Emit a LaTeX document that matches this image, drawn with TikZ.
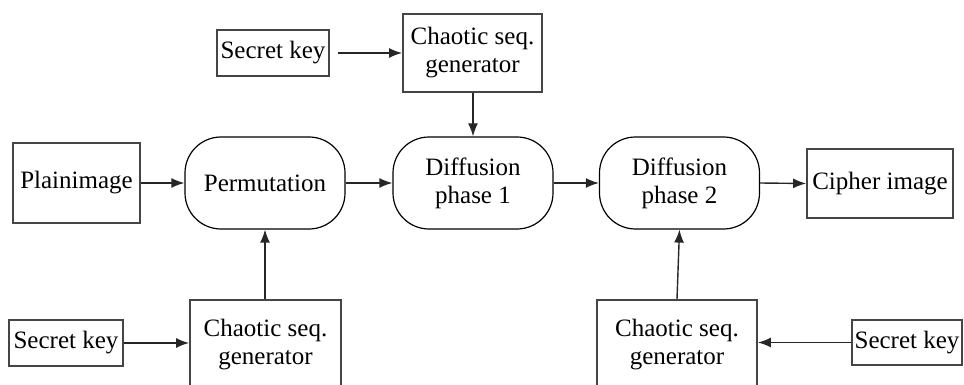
\documentclass[tikz,border=0pt]{standalone}
\usepackage{fontspec}
\setmainfont{Liberation Serif}
\newfontfamily\tnrfont{Liberation Serif}
\usetikzlibrary{arrows.meta}
\definecolor{boxline}{HTML}{454545}
\tikzset{
  box/.style={draw=boxline, line width=1.8pt, align=center, inner sep=0pt},
  proc/.style={draw=black, line width=1.2pt, rounded corners=36pt, align=center, inner sep=0pt,
     minimum width=160pt, minimum height=92pt},
  arr/.style={draw=black!85, line width=1.4pt, -{Latex[length=13pt,width=10pt]}},
}
\begin{document}
\begin{tikzpicture}[x=1pt,y=-1pt, font=\tnrfont\fontsize{25}{28}\selectfont]
\useasboundingbox (0,0) rectangle (964,385);
\clip (0,0) rectangle (964,385);
\node[box, minimum width=112pt, minimum height=46pt] (sk1) at (273,53) {Secret key};
\node[box, minimum width=139pt, minimum height=78pt] (cg1) at (472.5,53) {Chaotic seq.\\generator};
\node[box, minimum width=127pt, minimum height=80pt] (plain) at (76.5,183) {Plainimage};
\node[proc] (perm) at (265,183) {Permutation};
\node[proc] (diff1) at (473,183) {Diffusion\\phase 1};
\node[proc] (diff2) at (679.5,183) {Diffusion\\phase 2};
\node[box, minimum width=146pt, minimum height=69pt] (ciph) at (880,183.5) {Cipher image};
\node[box, minimum width=114pt, minimum height=46pt] (sk2) at (66,343) {Secret key};
\node[box, minimum width=151pt, minimum height=90pt] (cg2) at (265.5,345) {Chaotic seq.\\generator};
\node[box, minimum width=160pt, minimum height=90pt] (cg3) at (677,345) {Chaotic seq.\\generator};
\node[box, minimum width=110pt, minimum height=45pt] (sk3) at (907,342.5) {Secret key};

\draw[arr, shorten <=8pt] (sk1.east) -- (cg1.west |- sk1.east);
\draw[arr] (cg1.south -| diff1.north) -- (diff1.north);
\draw[arr] (plain.east) -- (perm.west);
\draw[arr] (perm.east) -- (diff1.west);
\draw[arr] (diff1.east) -- (diff2.west);
\draw[arr] (diff2.east) -- (ciph.west);
\draw[arr] (sk2.east) -- (cg2.west |- sk2.east);
\draw[arr] (cg2.north -| perm.south) -- (perm.south);
\draw[arr] (cg3.north) -- (diff2.south);
\draw[arr] (sk3.west) -- (cg3.east |- sk3.west);
\end{tikzpicture}
\end{document}
